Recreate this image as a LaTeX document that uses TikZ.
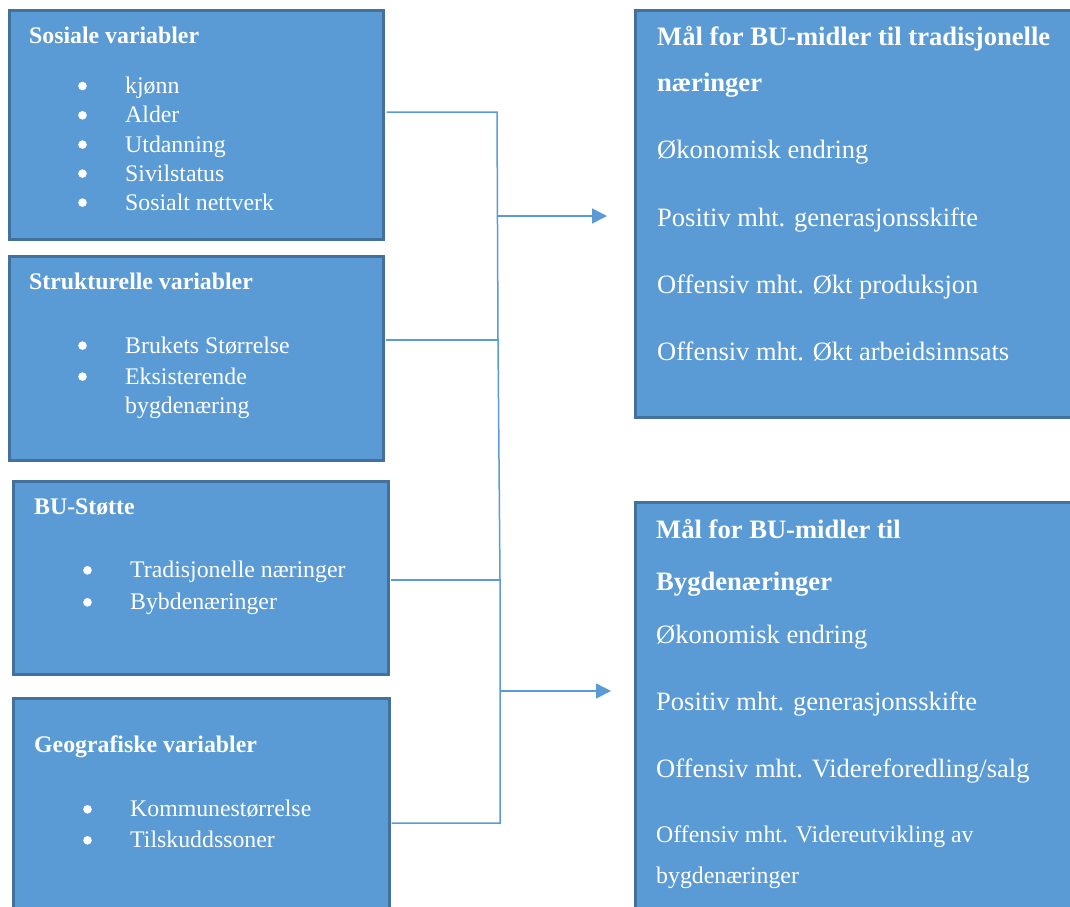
\documentclass[tikz,border=0pt]{standalone}
\usepackage{fontspec}
\setmainfont{Liberation Serif}
\usetikzlibrary{arrows.meta}
\definecolor{boxfill}{HTML}{5B9BD5}
\definecolor{boxedge}{HTML}{41719C}
\definecolor{linkcol}{HTML}{5B9BD5}
\tikzset{
  panel/.style={draw=boxedge, fill=boxfill, line width=2.6pt, rectangle,
    anchor=north west, inner sep=0pt},
  txt/.style={anchor=base west, inner sep=0pt, text=white,
    font=\fontsize{23.8}{28}\selectfont},
  bigtxt/.style={txt, font=\fontsize{26.5}{32}\selectfont},
  head/.style={txt, font=\fontsize{23.8}{28}\selectfont\bfseries},
  bighead/.style={txt, font=\fontsize{26.6}{32}\selectfont\bfseries},
  dot/.style={circle, fill=white, inner sep=0pt, minimum size=8.6pt},
  conn/.style={draw=linkcol, line width=1.5pt},
  arr/.style={conn, -{Triangle[length=15pt, width=15pt]}},
}
\begin{document}
\begin{tikzpicture}[x=1pt, y=-1pt]
\useasboundingbox (0,0) rectangle (1070,906);
\clip (0,0) rectangle (1070,906);

% Input boxes on the left
\node[panel, minimum width=374pt, minimum height=229pt] (soc) at (8,9) {};
\node[panel, minimum width=374pt, minimum height=204pt] (str) at (8,255) {};
\node[panel, minimum width=375pt, minimum height=193pt] (bu)  at (12,480) {};
\node[panel, minimum width=376pt, minimum height=230pt] (geo) at (12,697) {};

% Goal boxes on the right
\node[panel, minimum width=450pt, minimum height=407pt] (g1) at (634,9) {};
\node[panel, minimum width=450pt, minimum height=420pt] (g2) at (634,501) {};

% Sosiale variabler
\node[head] (soc-t) at (29,43.5) {Sosiale variabler};
\foreach \y/\t [count=\i] in {93.5/kjønn, 122.8/Alder, 152.1/Utdanning, 181.1/Sivilstatus, 210.1/Sosialt nettverk}{
  \node[dot] (soc-b\i) at (82.5,\y-7.5) {};
  \node[txt] (soc-\i) at (125,\y) {\t};
}

% Strukturelle variabler
\node[head] (str-t) at (29,289.8) {Strukturelle variabler};
\node[dot] (str-b1) at (82.5,345.6) {};
\node[txt] (str-1) at (125,353.1) {Brukets Størrelse};
\node[dot] (str-b2) at (82.5,376.6) {};
\node[txt] (str-2) at (125,384.1) {Eksisterende};
\node[txt] (str-3) at (125,413.1) {bygdenæring};

% BU-Stotte
\node[head] (bu-t) at (34,514.8) {BU-Støtte};
\node[dot] (bu-b1) at (87.5,570.3) {};
\node[txt] (bu-1) at (130,577.8) {Tradisjonelle næringer};
\node[dot] (bu-b2) at (87.5,602.3) {};
\node[txt] (bu-2) at (130,609.8) {Bybdenæringer};

% Geografiske variabler
\node[head] (geo-t) at (34,752.8) {Geografiske variabler};
\node[dot] (geo-b1) at (87.5,809.3) {};
\node[txt] (geo-1) at (130,816.8) {Kommunestørrelse};
\node[dot] (geo-b2) at (87.5,840.3) {};
\node[txt] (geo-2) at (130,847.8) {Tilskuddssoner};

% Goals for traditional industries
\node[bighead] (g1-t1) at (657,45) {Mål for BU-midler til tradisjonelle};
\node[bighead] (g1-t2) at (657,91) {næringer};
\node[bigtxt] (g1-1) at (657,158.5) {Økonomisk endring};
\node[bigtxt] (g1-2) at (657,226) {Positiv mht. generasjonsskifte};
\node[bigtxt] (g1-3) at (657,293) {Offensiv mht. Økt produksjon};
\node[bigtxt] (g1-4) at (657,360) {Offensiv mht. Økt arbeidsinnsats};

% Goals for rural industries
\node[bighead] (g2-t1) at (656,538) {Mål for BU-midler til};
\node[bighead] (g2-t2) at (656,590) {Bygdenæringer};
\node[bigtxt] (g2-1) at (656,643.5) {Økonomisk endring};
\node[bigtxt] (g2-2) at (656,710.5) {Positiv mht. generasjonsskifte};
\node[bigtxt] (g2-3) at (656,777.5) {Offensiv mht. Videreforedling/salg};
\node[txt] (g2-4) at (656,842) {Offensiv mht. Videreutvikling av};
\node[txt] (g2-5) at (656,883) {bygdenæringer};

% Junction points of the collecting line
\coordinate (ja) at (497,112);
\coordinate (ma) at (497.5,216);
\coordinate (jb) at (498,340);
\coordinate (jc) at (500,580);
\coordinate (mb) at (500,691);
\coordinate (jd) at (500,823);

% Connectors
\draw[conn] ([xshift=2pt]soc.east |- ja) -- (ja) -- (jb) -- (jc) -- (jd) -- ([xshift=1pt]geo.east |- jd);
\draw[conn] ([xshift=1pt]str.east |- jb) -- (jb);
\draw[conn] ([xshift=1pt]bu.east |- jc) -- (jc);
\draw[arr] (ma) -- ([xshift=-27pt]g1.west |- ma);
\draw[arr] (mb) -- ([xshift=-23pt]g2.west |- mb);
\end{tikzpicture}
\end{document}
